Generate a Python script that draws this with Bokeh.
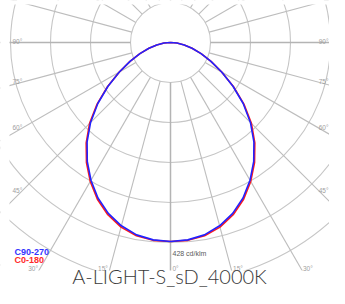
import numpy as np
from bokeh.plotting import figure
from bokeh.models import Range1d
from bokeh.core.properties import value
from bokeh.embed import file_html
from bokeh.resources import INLINE

# ---- data (cd/klm) ----
gamma = [0, 5, 10, 15, 20, 25, 30, 35, 40, 45, 50, 55, 60, 65, 70, 75, 80, 85, 90]
c90_270 = [428, 426, 420, 408, 391, 369, 342, 312, 279, 243, 204, 164, 127, 96, 70, 48, 30, 14, 0]
c0_180 = [428, 427, 422, 411, 394, 372, 345, 315, 282, 246, 206, 165, 127, 96, 70, 48, 30, 14, 0]
ring_step = 86
ring_count = 7
ray_angles = list(range(0, 360, 15))
side_labels = [90, 75, 60, 45]
bottom_labels = [30, 15, 0]
max_label = "428 cd/klm"
legend_names = ["C90-270", "C0-180"]
title_text = "A-LIGHT-S_sD_4000K"

# ---- scale: px per cd/klm ----
s = 40.0 / ring_step

# figure sits at page (8, 8); polar centre at page (178, 50)
p = figure(width=329, height=288, output_backend="svg", toolbar_location=None,
           x_axis_location=None, y_axis_location=None,
           x_range=Range1d(-170 / s, 159 / s), y_range=Range1d(-246 / s, 42 / s),
           min_border_left=0, min_border_right=0, min_border_top=0, min_border_bottom=0)
p.grid.visible = False
p.outline_line_color = None
p.background_fill_color = "white"
p.border_fill_color = "white"

# rings
rings = [ring_step * (k + 1) for k in range(ring_count)]
p.circle(x=[0] * len(rings), y=[0] * len(rings), radius=rings,
         fill_color=None, line_color="#c6c6c6", line_width=1.1)

# rays
a = np.radians(np.array(ray_angles, dtype=float))
r0, r1 = ring_step, 1000
x0 = r0 * np.sin(a); y0 = -r0 * np.cos(a)
x1 = r1 * np.sin(a); y1 = -r1 * np.cos(a)
main = np.array([ang % 90 == 0 for ang in ray_angles])
p.segment(x0[~main], y0[~main], x1[~main], y1[~main], line_color="#bdbdbd", line_width=1.1)
p.segment(x0[main], y0[main], x1[main], y1[main], line_color="#b4b4b4", line_width=1.5)


def curve(vals):
    g = np.radians(np.array(gamma, dtype=float))
    v = np.array(vals, dtype=float)
    xl = -v[::-1] * np.sin(g[::-1]); yl = -v[::-1] * np.cos(g[::-1])
    xr = v[1:] * np.sin(g[1:]); yr = -v[1:] * np.cos(g[1:])
    return np.concatenate([xl, xr]), np.concatenate([yl, yr])


xr_, yr_ = curve(c0_180)
p.line(xr_, yr_, line_color="#ff1a1a", line_width=1.6, line_join="round")
xb_, yb_ = curve(c90_270)
p.line(xb_, yb_, line_color="#2222ff", line_width=1.6, line_join="round")

# white mask around the diagram area (grid is cropped to a rectangle)
L, R, T, B = -161 / s, 159 / s, 38 / s, -228 / s
X0, X1, Y0, Y1 = -175 / s, 165 / s, -250 / s, 46 / s
p.quad(left=[X0, R, X0, X0], right=[L, X1, X1, X1], bottom=[Y0, Y0, T, Y0], top=[Y1, Y1, Y1, B],
       fill_color="white", line_color=None)

lab_font = value("Liberation Sans")
lab_col = "#a0a0a0"
lab_size = "6.5px"

# side labels
ys = []
for ang in side_labels:
    t = np.radians(ang)
    dy = 149 * np.cos(t) / np.sin(t)
    ys.append((-dy + 1) / s)
txt = [f"{ang}°" for ang in side_labels]
p.text(x=[-158 / s] * len(ys), y=ys, text=txt, text_font=lab_font, text_font_size=lab_size,
       text_color=lab_col, text_align="left", text_baseline="alphabetic")
p.text(x=[158 / s] * len(ys), y=ys, text=txt, text_font=lab_font, text_font_size=lab_size,
       text_color=lab_col, text_align="right", text_baseline="alphabetic")

# bottom labels
by = -226 / s
lx, ltxt, rx, rtxt = [], [], [], []
for ang in bottom_labels:
    dx = 226 * np.tan(np.radians(ang))
    if ang > 0:
        lx.append((-dx - 2) / s); ltxt.append(f"{ang}°")
    rx.append((dx + 2) / s); rtxt.append(f"{ang}°")
p.text(x=lx, y=[by] * len(lx), text=ltxt, text_font=lab_font, text_font_size=lab_size,
       text_color=lab_col, text_align="right", text_baseline="alphabetic")
p.text(x=rx, y=[by] * len(rx), text=rtxt, text_font=lab_font, text_font_size=lab_size,
       text_color=lab_col, text_align="left", text_baseline="alphabetic")

# max label
p.text(x=[2 / s], y=[-max(c90_270) - 12 / s], text=[max_label], text_font=lab_font,
       text_font_size="7px", text_color="#5a5a5a", text_align="left", text_baseline="alphabetic")

# legend
p.text(x=[-156 / s], y=[-209.5 / s], text=[legend_names[0]], text_font=lab_font,
       text_font_size="9px", text_font_style="bold", text_color="#3333ff",
       text_align="left", text_baseline="alphabetic")
p.text(x=[-156 / s], y=[-217.5 / s], text=[legend_names[1]], text_font=lab_font,
       text_font_size="9px", text_font_style="bold", text_color="#ff2a2a",
       text_align="left", text_baseline="alphabetic")

# title below the diagram
p.text(x=[-1 / s], y=[-233 / s], text=[title_text], text_font=value("Lato Light"),
       text_font_size="20px", text_color="#3a3a3a", text_align="center",
       text_baseline="alphabetic")

open("out.html", "w").write(file_html(p, INLINE))
